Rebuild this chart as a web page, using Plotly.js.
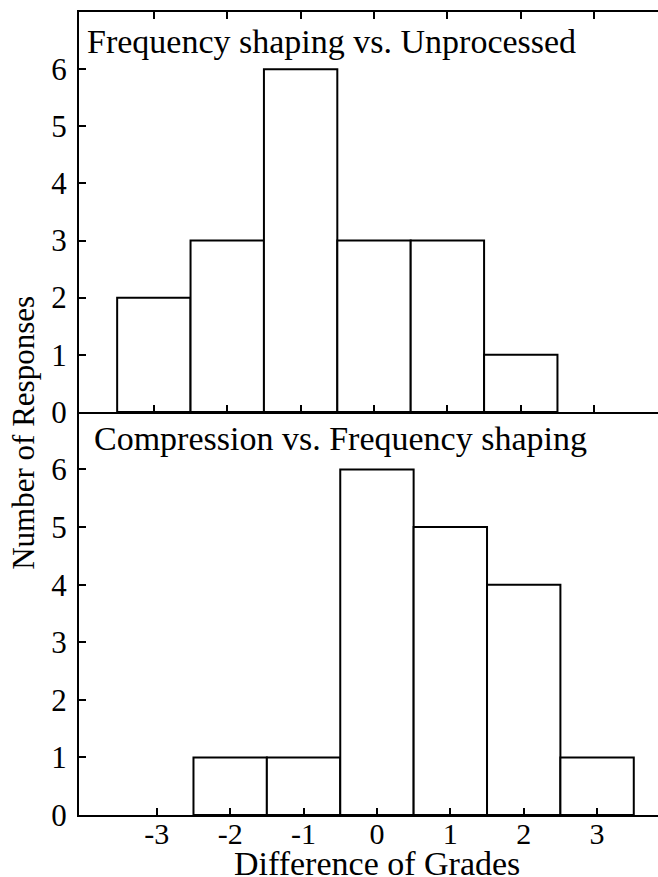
<!DOCTYPE html>
<html>
<head>
<meta charset="utf-8">
<script src="https://cdn.plot.ly/plotly-3.0.1.min.js"></script>
<style>html,body{margin:0;padding:0;background:#fff;}#chart{width:658px;height:877px;}</style>
</head>
<body>
<div id="chart"></div>
<script>
// Data
var gradeDiffTop = [-3, -2, -1, 0, 1, 2];
var countsTop = [2, 3, 6, 3, 3, 1];
var gradeDiffBottom = [-2, -1, 0, 1, 2, 3];
var countsBottom = [1, 1, 6, 5, 4, 1];
var xTickVals = [-3, -2, -1, 0, 1, 2, 3];
var xTickText = ['-3', '-2', '-1', '0', '1', '2', '3'];
var yTickVals = [0, 1, 2, 3, 4, 5, 6];
var panelTitleTop = 'Frequency shaping vs. Unprocessed';
var panelTitleBottom = 'Compression vs. Frequency shaping';
var xTitle = 'Difference of Grades';
var yTitle = 'Number of Responses';

var FONT = 'Liberation Serif, Times New Roman, serif';
var FS = 31;
var FS_TXT = 34;

var barStyle = {color: '#ffffff', line: {color: '#000000', width: 2}};

var traces = [
  {type: 'bar', x: gradeDiffTop, y: countsTop, width: 1, marker: barStyle, xaxis: 'x2', yaxis: 'y2', hoverinfo: 'x+y'},
  {type: 'bar', x: gradeDiffBottom, y: countsBottom, width: 1, marker: barStyle, xaxis: 'x', yaxis: 'y', hoverinfo: 'x+y'}
];

var axisCommon = {
  showgrid: false, zeroline: false, showline: true, linecolor: '#000', linewidth: 2,
  ticks: 'inside', ticklen: 7, tickwidth: 2, tickcolor: '#000',
  tickfont: {family: FONT, size: FS, color: '#000'}
};

var layout = {
  width: 658, height: 877,
  margin: {l: 79, r: 0, t: 12, b: 62},
  paper_bgcolor: '#fff', plot_bgcolor: '#fff',
  showlegend: false,
  bargap: 0,
  font: {family: FONT, size: FS, color: '#000'},
  xaxis: Object.assign({}, axisCommon, {
    range: [-4.06, 3.83], tickvals: xTickVals, ticktext: xTickText,
    anchor: 'y', ticklabelstandoff: -9, tickfont: {family: FONT, size: 30, color: '#000'}
  }),
  yaxis: Object.assign({}, axisCommon, {
    domain: [0, 0.502], range: [0, 7], tickvals: yTickVals, anchor: 'x', ticklabelstandoff: 4
  }),
  xaxis2: Object.assign({}, axisCommon, {
    range: [-4.02, 3.87], tickvals: xTickVals, showticklabels: false,
    anchor: 'y2', mirror: 'ticks'
  }),
  yaxis2: Object.assign({}, axisCommon, {
    domain: [0.502, 1], range: [0, 7], tickvals: yTickVals, anchor: 'x2', ticklabelstandoff: 4
  }),
  annotations: [
    {text: panelTitleTop, xref: 'x2 domain', yref: 'y2 domain', x: 0.01, y: 0.925,
     xanchor: 'left', yanchor: 'middle', showarrow: false, font: {family: FONT, size: FS_TXT, color: '#000'}},
    {text: panelTitleBottom, xref: 'x domain', yref: 'y domain', x: 0.022, y: 0.935,
     xanchor: 'left', yanchor: 'middle', showarrow: false, font: {family: FONT, size: FS_TXT, color: '#000'}},
    {text: xTitle, xref: 'x', yref: 'paper', x: 0, y: -0.0605, xanchor: 'center', yanchor: 'middle',
     showarrow: false, borderpad: 0, font: {family: FONT, size: FS_TXT, color: '#000'}},
    {text: yTitle, xref: 'paper', yref: 'paper', x: -0.095, y: 0.476, xanchor: 'center', yanchor: 'middle',
     textangle: -90, showarrow: false, font: {family: FONT, size: FS, color: '#000'}}
  ]
};

Plotly.newPlot('chart', traces, layout, {displayModeBar: false, staticPlot: true});
</script>
</body>
</html>
